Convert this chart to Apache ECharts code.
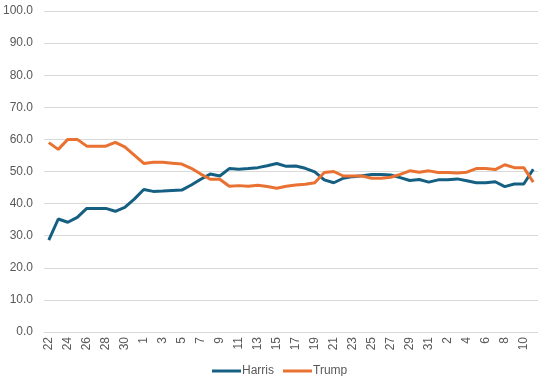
<!DOCTYPE html>
<html><head><meta charset="utf-8">
<script src="https://cdn.jsdelivr.net/npm/echarts@6/dist/echarts.min.js"></script>
<style>html,body{margin:0;padding:0;background:#fff}#c{width:538px;height:376px}</style>
</head><body><div id="c"></div>
<script>
const categories = ["22","23","24","25","26","27","28","29","30","31",
"1","2","3","4","5","6","7","8","9","10","11","12","13","14","15","16","17","18","19","20","21","22","23","24","25","26","27","28","29","30","31",
"1","2","3","4","5","6","7","8","9","10","11"];
const harris = [28.6,35.2,34.2,35.7,38.5,38.5,38.5,37.6,38.8,41.4,
44.4,43.8,43.9,44.1,44.2,45.8,47.6,49.2,48.6,50.9,50.7,50.9,51.2,51.8,52.5,51.6,51.7,51.0,49.9,47.4,46.5,47.9,48.4,48.7,49.1,49.1,48.9,48.1,47.2,47.5,46.7,
47.4,47.4,47.7,47.1,46.5,46.5,46.8,45.3,46.1,46.1,50.7];
const trump = [59.0,56.9,60.0,60.0,57.9,57.9,57.9,59.1,57.7,55.1,
52.5,52.9,52.9,52.6,52.3,51.0,49.2,47.6,47.6,45.4,45.6,45.4,45.7,45.3,44.8,45.4,45.8,46.0,46.5,49.7,50.0,48.6,48.6,48.6,47.9,47.9,48.2,49.1,50.2,49.8,50.2,
49.7,49.7,49.5,49.8,50.9,50.9,50.6,52.1,51.2,51.2,46.7];
const yTicks = {min:0, max:100, step:10};

const chart = echarts.init(document.getElementById('c'), null, {renderer:'canvas'});
const txt = '#595959', font = 'Liberation Sans';
chart.setOption({
  animation:false,
  grid:{left:44, right:0, top:11, bottom:44, containLabel:false},
  xAxis:{type:'category', data:categories, boundaryGap:true,
    axisLine:{show:true, lineStyle:{color:'#d9d9d9', width:1}},
    axisTick:{show:false},
    axisLabel:{interval:1, rotate:90, color:txt, fontFamily:font, fontSize:12, margin:5}},
  yAxis:{type:'value', min:yTicks.min, max:yTicks.max, interval:yTicks.step,
    axisLine:{show:false}, axisTick:{show:false},
    splitLine:{lineStyle:{color:'#d9d9d9', width:1}},
    axisLabel:{color:txt, fontFamily:font, fontSize:12, margin:11, formatter:v=>v.toFixed(1)}},
  legend:{bottom:-1, left:212, padding:0, icon:'rect', itemWidth:29, itemHeight:3, itemGap:9,
    textStyle:{color:txt, fontFamily:font, fontSize:12, padding:[0,0,0,-4]},
    data:['Harris','Trump']},
  series:[
    {name:'Harris', type:'line', data:harris, showSymbol:false, symbol:'none',
      lineStyle:{color:'#156082', width:3}, itemStyle:{color:'#156082'}},
    {name:'Trump', type:'line', data:trump, showSymbol:false, symbol:'none',
      lineStyle:{color:'#E97132', width:3}, itemStyle:{color:'#E97132'}}
  ]
});
</script></body></html>
